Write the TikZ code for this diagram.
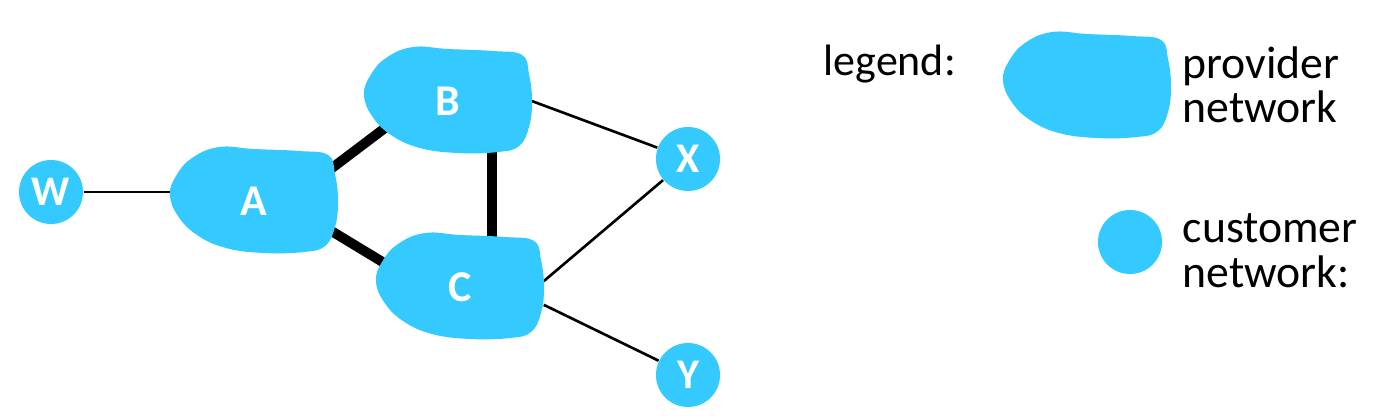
\documentclass[tikz,border=0pt]{standalone}
\usepackage{fontspec}
\setmainfont{Carlito}
\usepackage{tikz}
\pgfdeclarelayer{bg}
\pgfsetlayers{bg,main}
\definecolor{netblue}{RGB}{52,202,255}
\tikzset{link/.style={line width=0.75pt}}
\tikzset{peer/.style={line width=2.8pt, shorten <=-0.3cm, shorten >=-0.3cm}}
\tikzset{blob/.pic={
	\fill[netblue] plot[smooth cycle, tension=0.7] coordinates {(-84,-6) (-76,15) (-57,34) (-28,47) (10,52) (50,51) (71,45) (81,26) (84,0) (81,-27) (74,-46) (45,-50) (0,-52) (-35,-54) (-62,-43) (-78,-25)};
}}

\begin{document}
\begin{tikzpicture}[x=0.01cm, y=-0.01cm]
	% Default action for each node
	\tikzset{every node/.style={font=\fontsize{13}{15}\selectfont}}
	\tikzset{provider/.style={minimum width=1.66cm, minimum height=1.08cm, inner sep=0pt, text=white, font=\fontsize{12.5}{14}\selectfont\bfseries}}
	\tikzset{customer/.style={circle, fill=netblue, minimum size=0.64cm, inner sep=0pt, text=white, font=\fontsize{12}{14}\selectfont\bfseries}}
	\useasboundingbox (0,0) rectangle (1390,418);

	\pic at (254,201) {blob};	\pic at (448,101) {blob};	\pic at (460,287) {blob};
	\node[provider] (A) at (254,201) {A};	\node[provider] (B) at (448,101) {B};	\node[provider] (C) at (460,287) {C};

	\node[customer] (W) at (51,192) {W};
	\node[customer] (X) at (688,159) {X};
	\node[customer] (Y) at (688,375) {Y};

	\begin{pgfonlayer}{bg}
		\draw[link] (W) -- (W -| A.west);
		\draw[peer] (A.24) -- (B.207);
		\draw[peer] (A.-22) -- (C.161);
		\draw[peer] (B.-51) -- (B.-51 |- C.north);
		\draw[link] (B.east) -- (X);
		\draw[link] (C.4) -- (X);
		\draw[link] (C.-12) -- (Y);
	\end{pgfonlayer}

	% legend
	\node[anchor=base west, inner sep=0pt, font=\fontsize{12.5}{15}\selectfont] (legend) at (823,75) {legend:};
	\pic at (1087,86) {blob};
	\node[anchor=base west, inner sep=0pt] (prov1) at (1182,78) {provider};
	\node[anchor=base west, inner sep=0pt] (prov2) at (1182,122) {network};
	\node[customer] (cust) at (1130,242) {};
	\node[anchor=base west, inner sep=0pt] (cust1) at (1182,242) {customer};
	\node[anchor=base west, inner sep=0pt] (cust2) at (1182,287) {network:};

\end{tikzpicture}
\end{document}
